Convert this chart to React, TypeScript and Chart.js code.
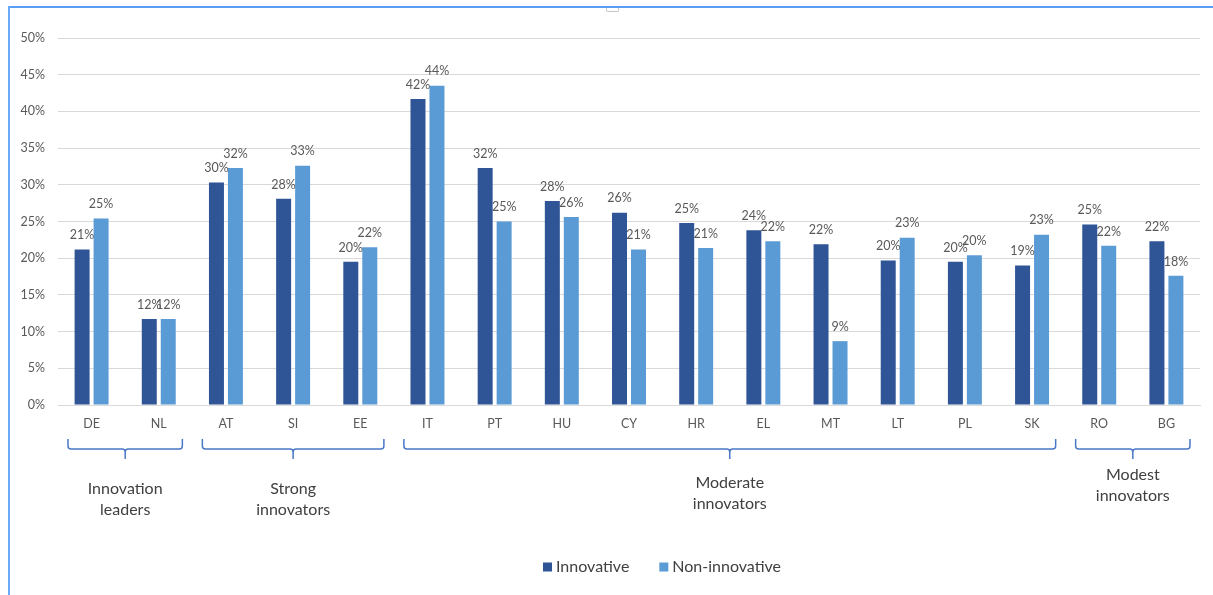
import React, { useEffect, useRef } from "react";
import { Chart, registerables } from "chart.js";

Chart.register(...registerables);

// Countries on the category axis
const countries = ["DE", "NL", "AT", "SI", "EE", "IT", "PT", "HU", "CY", "HR", "EL", "MT", "LT", "PL", "SK", "RO", "BG"];

// Share of firms (%) per country
const innovative = [21.2, 11.7, 30.3, 28.1, 19.5, 41.7, 32.3, 27.8, 26.2, 24.8, 23.8, 21.9, 19.7, 19.5, 19.0, 24.6, 22.3];
const nonInnovative = [25.4, 11.7, 32.3, 32.6, 21.5, 43.5, 25.0, 25.6, 21.2, 21.4, 22.3, 8.7, 22.8, 20.4, 23.2, 21.7, 17.6];

// Innovation performance groups (first / last country index, two-line caption)
const groupFirst = [0, 2, 5, 15];
const groupLast = [1, 4, 14, 16];
const groupCaptions = [
  ["Innovation", "leaders"],
  ["Strong", "innovators"],
  ["Moderate", "innovators"],
  ["Modest", "innovators"],
];

const seriesNames = ["Innovative", "Non-innovative"];
const yMax = 50;
const yStep = 5;

// Styling
const DARK = "#2F5597";
const LIGHT = "#5B9BD5";
const TEXT = "#595959";
const CAPTION = "#404040";
const BRACE = "#4A78C6";
const FONT = "Lato, 'Noto Sans', sans-serif";

// Vertical layout of the group braces and captions (canvas px)
const braceTop = 439;
const braceLine = 449;
const braceTip = 459;
const braceInset = 10;
const captionTop = [489, 489, 483, 475];
const captionLineGap = 21;
const legendY = 567;
const legendX = 543;

const annotations = {
  id: "annotations",
  afterDatasetsDraw(chart: any) {
    const ctx = chart.ctx as CanvasRenderingContext2D;
    ctx.save();
    // value labels above every bar
    ctx.font = `12.5px ${FONT}`;
    ctx.fillStyle = TEXT;
    ctx.textAlign = "center";
    ctx.textBaseline = "bottom";
    chart.data.datasets.forEach((ds: any, di: number) => {
      const meta = chart.getDatasetMeta(di);
      meta.data.forEach((bar: any, i: number) => {
        const v = ds.data[i] as number;
        ctx.fillText(`${Math.round(v)}%`, bar.x, bar.y - 8);
      });
    });
    ctx.restore();
  },
  afterDraw(chart: any) {
    const ctx = chart.ctx as CanvasRenderingContext2D;
    const xs = chart.scales.x;
    const step = xs.getPixelForValue(1) - xs.getPixelForValue(0);
    ctx.save();

    // group braces and captions
    groupFirst.forEach((first, g) => {
      const last = groupLast[g];
      const x0 = xs.getPixelForValue(first) - step / 2 + braceInset;
      const x1 = xs.getPixelForValue(last) + step / 2 - braceInset;
      const xc = (x0 + x1) / 2;
      const r = 3;
      ctx.strokeStyle = BRACE;
      ctx.lineWidth = 1.5;
      ctx.beginPath();
      ctx.moveTo(x0, braceTop);
      ctx.lineTo(x0, braceLine - r);
      ctx.quadraticCurveTo(x0, braceLine, x0 + r, braceLine);
      ctx.lineTo(xc - r, braceLine);
      ctx.quadraticCurveTo(xc, braceLine, xc, braceLine + r);
      ctx.lineTo(xc, braceTip);
      ctx.moveTo(xc, braceLine + r);
      ctx.quadraticCurveTo(xc, braceLine, xc + r, braceLine);
      ctx.lineTo(x1 - r, braceLine);
      ctx.quadraticCurveTo(x1, braceLine, x1, braceLine - r);
      ctx.lineTo(x1, braceTop);
      ctx.stroke();

      ctx.font = `16px ${FONT}`;
      ctx.fillStyle = CAPTION;
      ctx.textAlign = "center";
      ctx.textBaseline = "middle";
      groupCaptions[g].forEach((line, li) => {
        ctx.fillText(line, xc, captionTop[g] + li * captionLineGap);
      });
    });

    // legend
    ctx.font = `16px ${FONT}`;
    ctx.textAlign = "left";
    ctx.textBaseline = "middle";
    let lx = legendX;
    chart.data.datasets.forEach((ds: any) => {
      ctx.fillStyle = ds.backgroundColor;
      ctx.fillRect(lx, legendY - 4.5, 9, 9);
      ctx.fillStyle = CAPTION;
      ctx.fillText(ds.label, lx + 13, legendY);
      lx += 13 + ctx.measureText(ds.label).width + 30;
    });
    ctx.restore();
  },
};

export default function App() {
  const canvasRef = useRef<HTMLCanvasElement | null>(null);

  useEffect(() => {
    document.body.style.margin = "0";
    const canvas = canvasRef.current;
    if (!canvas) return;
    const chart = new Chart(canvas, {
      type: "bar",
      data: {
        labels: countries,
        datasets: [
          {
            label: seriesNames[0],
            data: innovative,
            backgroundColor: DARK,
            categoryPercentage: 0.565,
            barPercentage: 0.79,
          },
          {
            label: seriesNames[1],
            data: nonInnovative,
            backgroundColor: LIGHT,
            categoryPercentage: 0.565,
            barPercentage: 0.79,
          },
        ],
      },
      options: {
        animation: false,
        responsive: false,
        layout: { padding: { top: 38, right: 13, left: 0, bottom: 0 } },
        plugins: {
          legend: { display: false },
          tooltip: { enabled: false },
        },
        scales: {
          x: {
            grid: { display: false, drawTicks: false },
            border: { display: true, color: "#D9D9D9" },
            ticks: {
              padding: 11,
              color: TEXT,
              font: { family: FONT, size: 12.5 },
              maxRotation: 0,
              autoSkip: false,
            },
            afterFit: (s: any) => {
              s.height = 190;
            },
          },
          y: {
            min: 0,
            max: yMax,
            grid: { color: "#D9D9D9", lineWidth: 1, drawTicks: false },
            border: { display: false },
            ticks: {
              stepSize: yStep,
              padding: 13,
              color: TEXT,
              font: { family: FONT, size: 12.5 },
              callback: (v: any) => `${v}%`,
            },
            afterFit: (s: any) => {
              s.width = 58;
            },
          },
        },
      },
      plugins: [annotations],
    });
    return () => chart.destroy();
  }, []);

  return (
    <div style={{ position: "relative", width: 1213, height: 595, background: "#fff", overflow: "hidden" }}>
      <canvas ref={canvasRef} width={1213} height={595} style={{ position: "absolute", left: 0, top: 0 }} />
      <div style={{ position: "absolute", left: 8, top: 6, right: 0, height: 2, background: "#5A9CF6" }} />
      <div style={{ position: "absolute", left: 8, top: 6, bottom: 0, width: 2, background: "#6AA8F8" }} />
      <div
        style={{
          position: "absolute",
          left: 606,
          top: 8,
          width: 11,
          height: 3,
          border: "1px solid #C4C4C4",
          borderTop: "none",
          borderRadius: "0 0 2px 2px",
        }}
      />
    </div>
  );
}
